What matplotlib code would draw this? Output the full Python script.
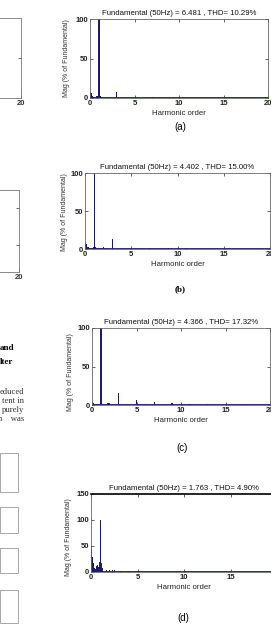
import matplotlib
matplotlib.use("Agg")
import matplotlib.pyplot as plt
from matplotlib.patches import Rectangle

W, H = 271, 638

# ---------------- data ----------------
orders_a = [0.0, 0.1, 0.2, 0.3, 0.4, 0.5, 0.7, 0.8, 0.9, 1.0, 1.1, 1.2, 1.3, 2.0, 3.0, 4.0, 5.0, 7.0, 9.0, 11.0, 13.0, 15.0, 17.0, 19.0]
mag_a = [7, 6, 4, 2.5, 1.5, 1, 1.5, 2, 2.5, 100, 2.5, 2, 1, 1.5, 7, 1, 1.2, 0.8, 0.6, 0.5, 0.5, 0.3, 0.3, 0.3]

orders_b = [0.0, 0.1, 0.2, 0.3, 0.4, 0.5, 0.6, 0.8, 0.9, 1.0, 1.1, 1.2, 1.5, 1.8, 2.0, 2.2, 3.0, 5.0, 7.0, 9.0, 11.0, 13.0, 15.0, 17.0, 19.0]
mag_b = [8, 7, 5, 3, 2, 1.5, 1, 1.5, 2, 100, 2, 1.5, 1, 1.5, 2, 1, 13, 1, 1.5, 0.8, 0.7, 0.6, 0.5, 0.5, 0.4]

orders_c = [0.0, 0.1, 0.2, 0.3, 0.5, 1.0, 1.1, 1.8, 2.0, 2.2, 3.0, 4.0, 5.0, 6.0, 7.0, 9.0, 11.0, 13.0, 15.0, 17.0, 19.0]
mag_c = [3, 2.5, 2, 1.5, 1, 100, 1.5, 2, 3, 1.5, 15.5, 1, 7, 0.8, 4, 2, 1.5, 1.2, 0.8, 0.7, 0.6]

orders_d = [0.0, 0.05, 0.1, 0.15, 0.2, 0.25, 0.3, 0.35, 0.4, 0.5, 0.6, 0.7, 0.8, 0.9, 0.95, 1.0, 1.05, 1.1, 1.2, 1.3, 1.5, 1.7, 2.0, 2.3, 2.5, 2.8, 3.0, 3.2, 4.0, 5.0, 7.0]
mag_d = [52, 50, 35, 28, 22, 18, 17, 8, 5, 6, 12, 14, 10, 12, 20, 100, 20, 18, 8, 7, 5, 4, 4, 3, 3, 3, 3.5, 2, 1, 2, 1]

titles = ["Fundamental (50Hz) = 6.481 , THD= 10.29%",
          "Fundamental (50Hz) = 4.402 , THD= 15.00%",
          "Fundamental (50Hz) = 4.366 , THD= 17.32%",
          "Fundamental (50Hz) = 1.763 , THD= 4.90%"]
captions = ["(a)", "(b)", "(c)", "(d)"]
xticks = [0, 5, 10, 15, 20]
yticks_100 = [0, 50, 100]
yticks_150 = [0, 50, 100, 150]

# ---------------- layout helpers ----------------
fig = plt.figure(figsize=(W / 100, H / 100), dpi=100)
fig.patch.set_facecolor("white")


def px_axes(x0, y0, x1, y1):
    return fig.add_axes([x0 / W, 1 - y1 / H, (x1 - x0) / W, (y1 - y0) / H])


NAVY = "#1c1c6a"
FONT = ["Liberation Sans Narrow", "Liberation Sans", "DejaVu Sans"]


def fft_panel(box, orders, mags, title, ymax, yticks, width):
    ax = px_axes(*box)
    ax.bar(orders, mags, width=width, color=NAVY, linewidth=0, align="center")
    ax.axhline(0.6 * ymax / 100, color=NAVY, lw=1.3)
    ax.set_xlim(0, 20)
    ax.set_ylim(0, ymax)
    ax.set_xticks(xticks)
    ax.set_yticks(yticks)
    ax.tick_params(direction="in", length=2, width=0.5, top=True, right=True,
                   labelsize=5.5, pad=1.5, colors="#222222")
    for lab in ax.get_xticklabels() + ax.get_yticklabels():
        lab.set_family(FONT)
        lab.set_weight("bold")
    for s in ax.spines.values():
        s.set_color("#666666")
        s.set_linewidth(0.6)
    ax.set_title(title, fontsize=5.6, family=FONT, pad=3, color="#111111")
    ax.set_xlabel("Harmonic order", fontsize=5.6, family=FONT, labelpad=2, color="#222222")
    return ax


ax_a = fft_panel((90, 19, 268, 98), orders_a, mag_a, titles[0], 100, yticks_100, 0.14)
ax_b = fft_panel((85, 173, 270, 249), orders_b, mag_b, titles[1], 100, yticks_100, 0.14)
ax_c = fft_panel((92, 328, 270, 405), orders_c, mag_c, titles[2], 100, yticks_100, 0.14)
ax_d = fft_panel((91, 494, 277, 572), orders_d, mag_d, titles[3], 150, yticks_150, 0.08)
ax_d.spines["top"].set_color("black")
ax_d.spines["top"].set_linewidth(1.2)

# y labels
for x, yc in [(67, 58), (65, 212), (71, 372), (68, 537)]:
    fig.text(x / W, 1 - yc / H, "Mag (% of Fundamental)", rotation=90, ha="center",
             va="center", fontsize=5.0, family=["Liberation Sans", "DejaVu Sans"], color="#333333")

# captions
fig.text(180 / W, 1 - 127 / H, captions[0], ha="center", va="center", fontsize=7,
         family=["Liberation Sans", "DejaVu Sans"])
fig.text(180 / W, 1 - 289 / H, captions[1], ha="center", va="center", fontsize=6.5,
         family=["Liberation Serif", "DejaVu Serif"], weight="bold")
fig.text(182 / W, 1 - 448 / H, captions[2], ha="center", va="center", fontsize=7,
         family=["Liberation Sans", "DejaVu Sans"])
fig.text(183 / W, 1 - 618 / H, captions[3], ha="center", va="center", fontsize=7,
         family=["Liberation Sans", "DejaVu Sans"])

# ---------------- left-side fragments of the page ----------------
for (y0, y1, ty, yt) in [(18, 98, 105, [58]), (190, 272, 280, [208, 245])]:
    fx = px_axes(-150, y0, 21 if y0 < 100 else 19, y1)
    fx.set_xlim(-50, 20)
    fx.set_ylim(y1, y0)
    fx.set_xticks([20])
    fx.set_xticklabels(["20"])
    fx.set_yticks(yt)
    fx.tick_params(direction="in", length=2, width=0.5, right=True, left=False,
                   labelleft=False, labelsize=5.5, pad=1.5, colors="#333333")
    for lab in fx.get_xticklabels():
        lab.set_family(FONT)
        lab.set_weight("bold")
    for s in fx.spines.values():
        s.set_color("#777777")
        s.set_linewidth(0.6)

serif = ["Liberation Serif", "DejaVu Serif"]
fig.text(0 / W, 1 - 348 / H, "and", ha="left", va="center", fontsize=6.5, family=serif, weight="bold")
fig.text(0 / W, 1 - 362 / H, "lter", ha="left", va="center", fontsize=6.5, family=serif, weight="bold")
for yy, t in [(392, "educed"), (401, "tent in"), (410, "purely"), (419, "n    was")]:
    fig.text(24 / W, 1 - yy / H, t, ha="right", va="center", fontsize=6.2, family=serif, color="#333333")

for (y0, y1) in [(453, 492), (507, 533), (548, 573), (590, 623)]:
    fig.patches.append(Rectangle((0, 1 - y1 / H), 18 / W, (y1 - y0) / H,
                                 transform=fig.transFigure, fill=False,
                                 edgecolor="#999999", linewidth=0.6))

fig.savefig("out.png", dpi=100, facecolor="white")
